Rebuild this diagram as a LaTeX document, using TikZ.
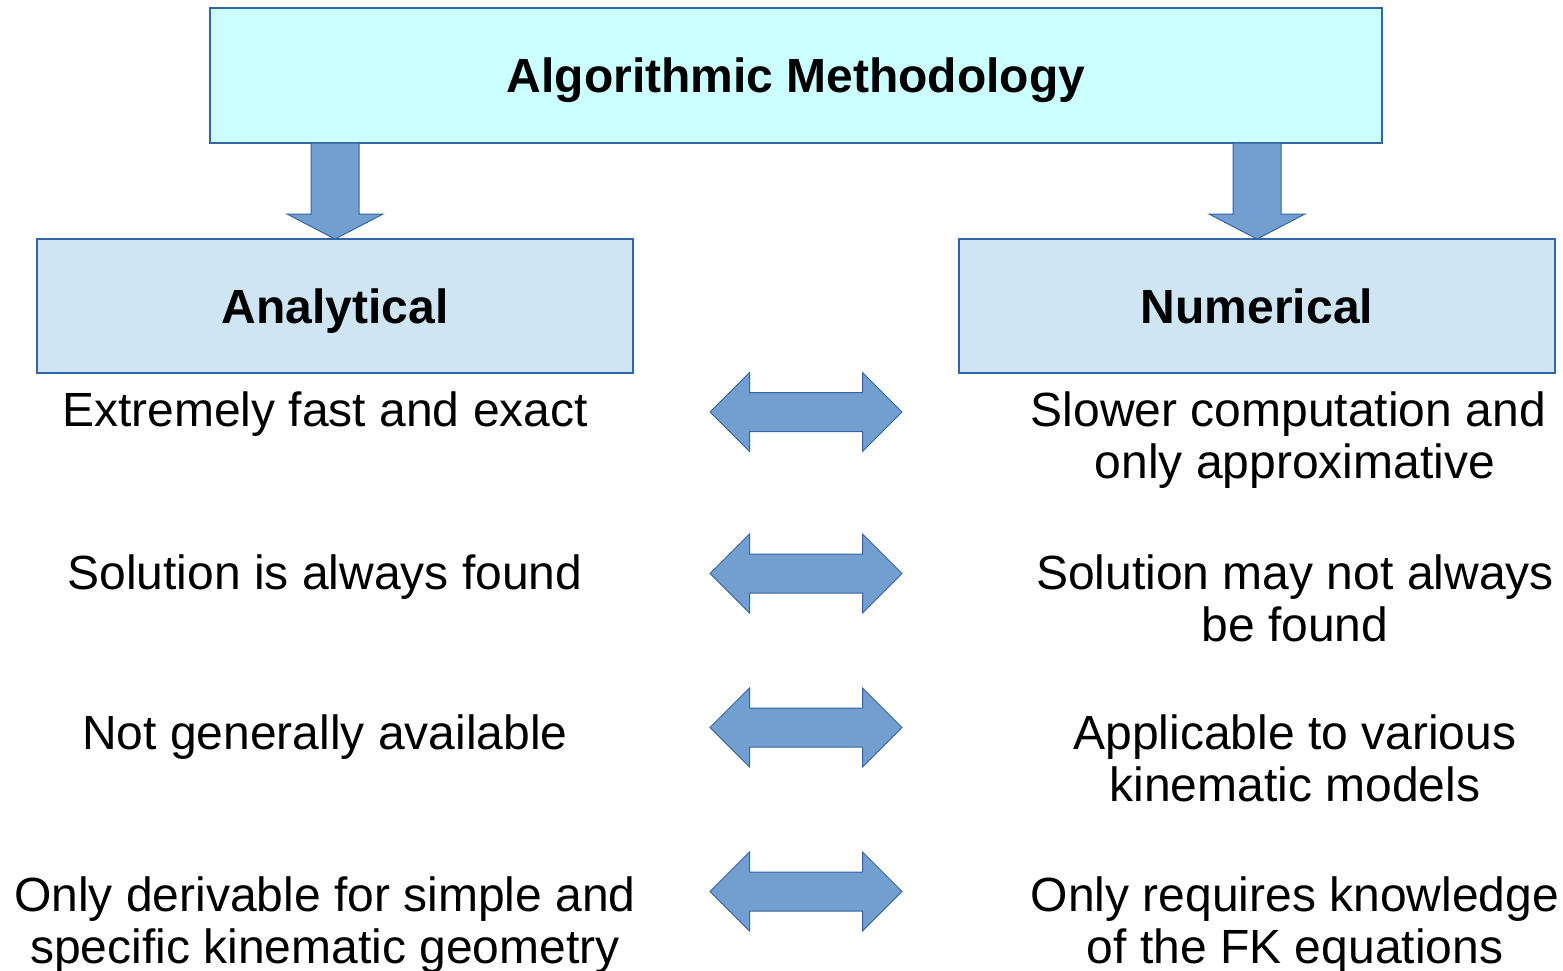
\documentclass[tikz,border=0pt]{standalone}
\usepackage{fontspec}
\setmainfont{Liberation Sans}
\usetikzlibrary{calc,shapes.arrows}

\definecolor{titlefill}{HTML}{CCFFFF}
\definecolor{headfill}{HTML}{CFE5F3}
\definecolor{edgeblue}{HTML}{3465A4}
\definecolor{arrowfill}{HTML}{729FCF}

\tikzset{
  box/.style={draw=edgeblue, line width=0.6pt, inner sep=0pt, outer sep=0pt,
    font=\fontsize{24}{26}\selectfont\bfseries, text height=17.2pt, text depth=0pt},
  titlebox/.style={box, fill=titlefill, minimum width=586pt, minimum height=67.5pt},
  headbox/.style={box, fill=headfill, minimum width=298pt, minimum height=67pt},
  blockarrow/.style={draw=edgeblue, fill=arrowfill, line width=0.5pt, line join=miter},
  cmparrow/.style={double arrow, draw=edgeblue, fill=arrowfill, line width=0.5pt,
    minimum height=96pt, minimum width=39pt, double arrow head extend=10pt,
    inner sep=0pt, outer sep=0pt, text height=19pt, text depth=0pt},
  itemtext/.style={anchor=base, align=center, inner sep=0pt,
    font=\fontsize{24}{26}\selectfont}
}

\begin{document}
\begin{tikzpicture}[x=0.5pt, y=-0.5pt]
  \useasboundingbox (0,0) rectangle (1563,970);

  % header boxes
  \node[titlebox] (top) at (796,75.5) {Algorithmic Methodology};
  \node[headbox]  (ana) at (335,306) {Analytical};
  \node[headbox]  (num) at (1257,306) {Numerical};

  % block arrows from the title to both method boxes
  \foreach \b in {ana,num}{
    \draw[blockarrow]
      ($(top.south -| \b.north)+(-24,0)$) -- ($(\b.north)+(-24,-25)$)
      -- ($(\b.north)+(-48,-25)$) -- (\b.north) -- ($(\b.north)+(48,-25)$)
      -- ($(\b.north)+(24,-25)$) -- ($(top.south -| \b.north)+(24,0)$) -- cycle;
  }

  % comparison arrows
  \node[cmparrow] (c1) at (806,412) {};
  \node[cmparrow] (c2) at (806,573.5) {};
  \node[cmparrow] (c3) at (806,727.5) {};
  \node[cmparrow] (c4) at (806,891.5) {};

  % analytical properties (anchored on the baseline of the last line)
  \node[itemtext] (a1) at (325,426) {Extremely fast and exact};
  \node[itemtext] (a2) at (325,589) {Solution is always found};
  \node[itemtext] (a3) at (325,749) {Not generally available};
  \node[itemtext] (a4) at (325,963) {Only derivable for simple and\\specific kinematic geometry};

  % numerical properties
  \node[itemtext] (n1) at (1295,478) {Slower computation and\rule{0.278em}{0pt}\\only approximative};
  \node[itemtext] (n2) at (1295,641) {Solution may not always\\be found};
  \node[itemtext] (n3) at (1295,801) {Applicable to various\\kinematic models};
  \node[itemtext] (n4) at (1295,963) {Only requires knowledge\\of the FK equations};
\end{tikzpicture}
\end{document}
